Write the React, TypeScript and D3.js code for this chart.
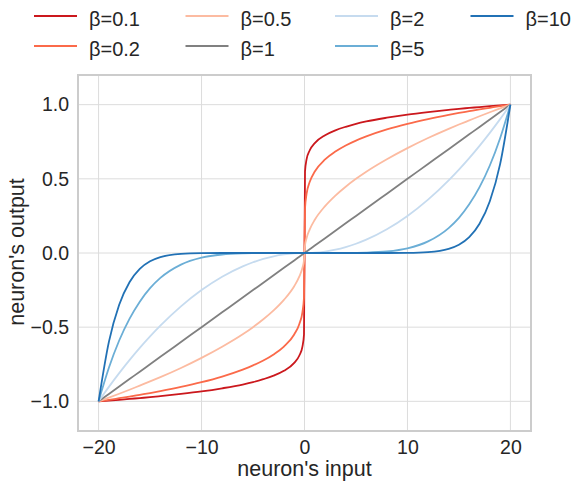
import React, { useEffect, useRef } from 'react';
import * as d3 from 'd3';

// neuron input samples (x axis)
const inputs = [
  -20, -19, -18, -17, -16, -15, -14, -12, -10, -8, -6, -5, -4, -3, -2, -1, -0.5, -0.2, -0.05, 0,
  0.05, 0.2, 0.5, 1, 2, 3, 4, 5, 6, 8, 10, 12, 14, 15, 16, 17, 18, 19, 20,
];

const betas = ['β=0.1', 'β=0.2', 'β=0.5', 'β=1', 'β=2', 'β=5', 'β=10'];
const colors = ['#cb181d', '#fb6a4a', '#fcbba1', '#808080', '#c6dbef', '#6baed6', '#2171b5'];

// outputs, one array per β
const out01 = [
  -1, -0.995, -0.99, -0.984, -0.978, -0.972, -0.965, -0.95, -0.933, -0.912, -0.887, -0.871, -0.851, -0.827, -0.794, -0.741, -0.691, -0.631, -0.549, 0,
  0.549, 0.631, 0.691, 0.741, 0.794, 0.827, 0.851, 0.871, 0.887, 0.912, 0.933, 0.95, 0.965, 0.972, 0.978, 0.984, 0.99, 0.995, 1,
];
const out02 = [
  -1, -0.99, -0.979, -0.968, -0.956, -0.944, -0.931, -0.903, -0.871, -0.833, -0.786, -0.758, -0.725, -0.684, -0.631, -0.549, -0.478, -0.398, -0.301, 0,
  0.301, 0.398, 0.478, 0.549, 0.631, 0.684, 0.725, 0.758, 0.786, 0.833, 0.871, 0.903, 0.931, 0.944, 0.956, 0.968, 0.979, 0.99, 1,
];
const out05 = [
  -1, -0.975, -0.949, -0.922, -0.894, -0.866, -0.837, -0.775, -0.707, -0.632, -0.548, -0.5, -0.447, -0.387, -0.316, -0.224, -0.158, -0.1, -0.05, 0,
  0.05, 0.1, 0.158, 0.224, 0.316, 0.387, 0.447, 0.5, 0.548, 0.632, 0.707, 0.775, 0.837, 0.866, 0.894, 0.922, 0.949, 0.975, 1,
];
const out1 = [
  -1, -0.95, -0.9, -0.85, -0.8, -0.75, -0.7, -0.6, -0.5, -0.4, -0.3, -0.25, -0.2, -0.15, -0.1, -0.05, -0.025, -0.01, -0.0025, 0,
  0.0025, 0.01, 0.025, 0.05, 0.1, 0.15, 0.2, 0.25, 0.3, 0.4, 0.5, 0.6, 0.7, 0.75, 0.8, 0.85, 0.9, 0.95, 1,
];
const out2 = [
  -1, -0.9025, -0.81, -0.7225, -0.64, -0.5625, -0.49, -0.36, -0.25, -0.16, -0.09, -0.0625, -0.04, -0.0225, -0.01, -0.0025, -0.0006, -0.0001, 0, 0,
  0, 0.0001, 0.0006, 0.0025, 0.01, 0.0225, 0.04, 0.0625, 0.09, 0.16, 0.25, 0.36, 0.49, 0.5625, 0.64, 0.7225, 0.81, 0.9025, 1,
];
const out5 = [
  -1, -0.774, -0.59, -0.444, -0.328, -0.237, -0.168, -0.078, -0.031, -0.01, -0.0024, -0.001, -0.0003, -0.0001, 0, 0, 0, 0, 0, 0,
  0, 0, 0, 0, 0, 0.0001, 0.0003, 0.001, 0.0024, 0.01, 0.031, 0.078, 0.168, 0.237, 0.328, 0.444, 0.59, 0.774, 1,
];
const out10 = [
  -1, -0.599, -0.349, -0.197, -0.107, -0.056, -0.028, -0.006, -0.001, -0.0001, 0, 0, 0, 0, 0, 0, 0, 0, 0, 0,
  0, 0, 0, 0, 0, 0, 0, 0, 0, 0.0001, 0.001, 0.006, 0.028, 0.056, 0.107, 0.197, 0.349, 0.599, 1,
];
const outputs = [out01, out02, out05, out1, out2, out5, out10];

const xTicks = [-20, -10, 0, 10, 20];
const yTicks = [-1, -0.5, 0, 0.5, 1];

function App() {
  const svgRef = useRef<SVGSVGElement>(null);
  const width = 574;
  const height = 484;

  useEffect(() => {
    const svg = d3.select(svgRef.current);
    svg.selectAll('*').remove();

    const margin = { top: 75, right: 43, bottom: 53, left: 78 };
    const innerWidth = width - margin.left - margin.right;
    const innerHeight = height - margin.top - margin.bottom;
    const font = '"Liberation Sans", Arial, sans-serif';
    const textColor = '#262626';

    const x = d3.scaleLinear().domain([-22, 22]).range([margin.left, margin.left + innerWidth]);
    const y = d3.scaleLinear().domain([-1.2, 1.2]).range([margin.top + innerHeight, margin.top]);

    svg.append('rect').attr('width', width).attr('height', height).attr('fill', '#fff');

    // grid
    const grid = svg.append('g');
    grid.selectAll('.gx').data(xTicks).enter().append('line')
      .attr('x1', d => x(d)).attr('x2', d => x(d))
      .attr('y1', margin.top).attr('y2', margin.top + innerHeight)
      .attr('stroke', '#dcdcdc').attr('stroke-width', 1);
    grid.selectAll('.gy').data(yTicks).enter().append('line')
      .attr('x1', margin.left).attr('x2', margin.left + innerWidth)
      .attr('y1', d => y(d)).attr('y2', d => y(d))
      .attr('stroke', '#dcdcdc').attr('stroke-width', 1);

    // curves
    const line = d3.line<number>()
      .x((_, i) => x(inputs[i]))
      .y(d => y(d))
      .curve(d3.curveMonotoneX);

    outputs.forEach((vals, k) => {
      svg.append('path')
        .attr('d', line(vals))
        .attr('fill', 'none')
        .attr('stroke', colors[k])
        .attr('stroke-width', 1.8);
    });

    // frame
    svg.append('rect')
      .attr('x', margin.left).attr('y', margin.top)
      .attr('width', innerWidth).attr('height', innerHeight)
      .attr('fill', 'none').attr('stroke', '#cccccc').attr('stroke-width', 2);

    const fmtX = (d: number) => (d < 0 ? '\u2212' + Math.abs(d) : String(d));
    const fmtY = (d: number) => (d < 0 ? '\u2212' + Math.abs(d).toFixed(1) : d.toFixed(1));

    const xAxis = svg.append('g')
      .attr('transform', `translate(0, ${margin.top + innerHeight})`)
      .call(d3.axisBottom(x).tickValues(xTicks).tickSize(0).tickPadding(9).tickFormat(d => fmtX(+d)));
    xAxis.select('.domain').remove();
    xAxis.selectAll('text').style('font-size', '19.5px').style('font-family', font).attr('fill', textColor);

    const yAxis = svg.append('g')
      .attr('transform', `translate(${margin.left}, 0)`)
      .call(d3.axisLeft(y).tickValues(yTicks).tickSize(0).tickPadding(9).tickFormat(d => fmtY(+d)));
    yAxis.select('.domain').remove();
    yAxis.selectAll('text').style('font-size', '19.5px').style('font-family', font).attr('fill', textColor);

    svg.append('text')
      .attr('x', margin.left + innerWidth / 2)
      .attr('y', 476)
      .attr('text-anchor', 'middle')
      .style('font-size', '21.5px')
      .style('font-family', font)
      .attr('fill', textColor)
      .text("neuron's input");

    svg.append('text')
      .attr('transform', `translate(16, 252) rotate(-90)`)
      .attr('text-anchor', 'middle')
      .attr('dy', '0.35em')
      .style('font-size', '21.5px')
      .style('font-family', font)
      .attr('fill', textColor)
      .text("neuron's output");

    // legend: 4 columns, filled column by column
    const colX = [34, 185.5, 335, 470.5];
    const lineY = [16, 46];
    const textY = [18.5, 48.5];
    betas.forEach((label, k) => {
      const col = Math.floor(k / 2);
      const row = k % 2;
      const g = svg.append('g').attr('transform', `translate(${colX[col]}, 0)`);
      g.append('line').attr('x1', 0).attr('x2', 43).attr('y1', lineY[row]).attr('y2', lineY[row])
        .attr('stroke', colors[k]).attr('stroke-width', 2);
      g.append('text').attr('x', 55).attr('y', textY[row]).attr('dy', '0.35em')
        .style('font-size', '20px').style('font-family', font).attr('fill', textColor)
        .text(label);
    });
  }, []);

  return <svg ref={svgRef} width={width} height={height} style={{ display: 'block', position: 'absolute', left: 0, top: 0 }}></svg>;
}

export default App;
